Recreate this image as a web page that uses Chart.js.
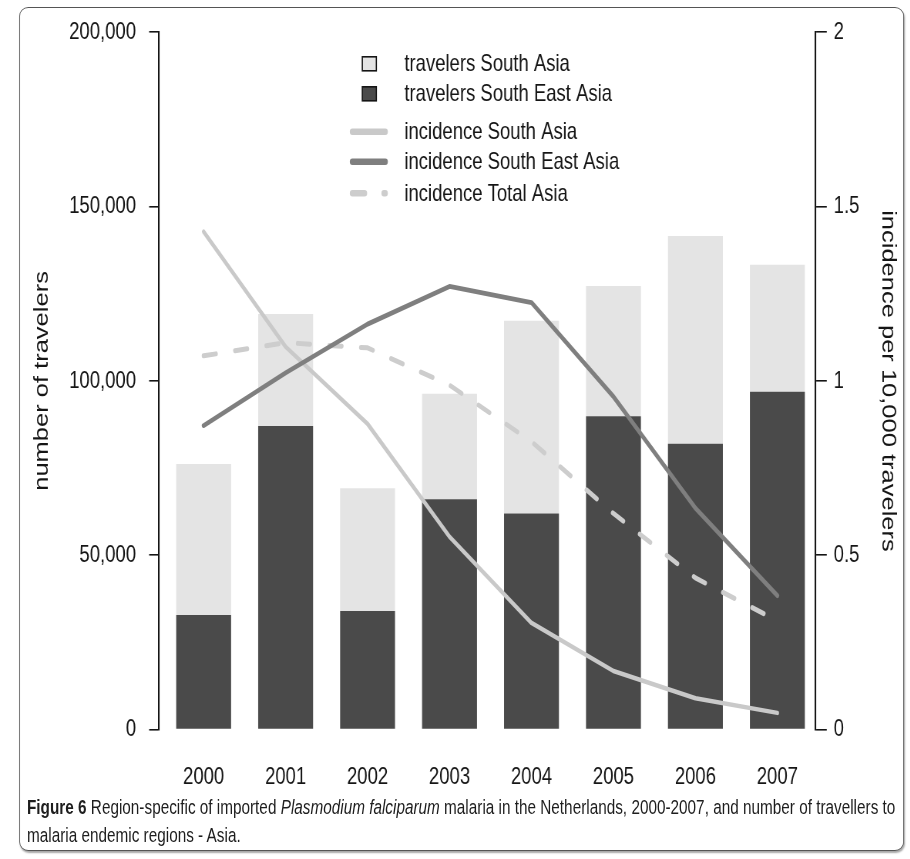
<!DOCTYPE html>
<html>
<head>
<meta charset="utf-8">
<script src="https://cdn.jsdelivr.net/npm/chart.js@4.4.1/dist/chart.umd.min.js"></script>
<style>
  html, body { margin: 0; padding: 0; background: #fff; overflow: hidden; }
  #page { position: absolute; left: 0; top: 0; height: 859px; transform-origin: 0 0; }
  #frame { position: absolute; box-sizing: border-box; border: 1.4px solid #555;
           box-shadow: 1px 2px 2px rgba(0,0,0,0.35); background: #fff; }
  #chart { position: absolute; left: 0; top: 0; }
  #caption { position: absolute; white-space: nowrap; color: #1e1e1e;
             font-family: 'Liberation Sans', Arial, Helvetica, sans-serif; }
</style>
</head>
<body>
<div id="page">
  <div id="frame"></div>
  <canvas id="chart"></canvas>
  <div id="caption"><b>Figure 6</b> Region-specific of imported <i>Plasmodium falciparum</i> malaria in the Netherlands, 2000-2007, and number of travellers to<br>malaria endemic regions - Asia.</div>
</div>
<script>
// Travellers (number of people) and imported P. falciparum incidence per 10,000 travellers
const years = ['2000', '2001', '2002', '2003', '2004', '2005', '2006', '2007'];
const travelersSouthEastAsia = [32900, 87100, 34000, 66100, 62000, 89900, 82000, 96900];
const travelersSouthAsia     = [43300, 32100, 35200, 30200, 55300, 37300, 59600, 36400];
const incidenceSouthAsia     = [1.428, 1.098, 0.877, 0.553, 0.306, 0.168, 0.090, 0.048];
const incidenceSouthEastAsia = [0.872, 1.023, 1.163, 1.271, 1.225, 0.955, 0.635, 0.384];
const incidenceTotalAsia     = [1.072, 1.110, 1.095, 0.988, 0.826, 0.620, 0.435, 0.312];
const travelerTicks  = [0, 50000, 100000, 150000, 200000];
const incidenceTicks = [0, 0.5, 1, 1.5, 2];

// The figure is set in a condensed face: draw at full width, then squeeze horizontally.
const SX = 0.77;
const W = 910 / SX, H = 859;
const px = x => x / SX;            // page x -> drawing x

const FONT = "'Liberation Sans', Arial, Helvetica, sans-serif";
const INK = '#151515';

const page = document.getElementById('page');
page.style.width = W + 'px';
page.style.transform = `scaleX(${SX})`;

const frame = document.getElementById('frame');
Object.assign(frame.style, {
  left: px(19) + 'px', top: '7px', width: px(904 - 19) + 'px', height: (851 - 7) + 'px',
  borderRadius: `${px(9)}px / 9px`
});

const caption = document.getElementById('caption');
Object.assign(caption.style, {
  left: px(27) + 'px', top: '793px', fontSize: '19.9px', lineHeight: '28px'
});

const canvas = document.getElementById('chart');
canvas.width = W; canvas.height = H;
canvas.style.width = W + 'px'; canvas.style.height = H + 'px';

const pts = arr => arr.map((v, i) => ({ x: i, y: v }));

// Legend drawn inside the plot, one item per row
const rowLegend = {
  id: 'rowLegend',
  afterDraw(chart, args, o) {
    const { ctx } = chart;
    o.order.forEach((di, k) => {
      const ds = chart.data.datasets[di];
      const y = o.rows[k];
      ctx.save();
      if (ds.type === 'bar') {
        ctx.fillStyle = ds.backgroundColor;
        ctx.strokeStyle = INK;
        ctx.lineWidth = 1.6;
        ctx.fillRect(px(o.boxX), y - o.box / 2, px(o.box), o.box);
        ctx.strokeRect(px(o.boxX), y - o.box / 2, px(o.box), o.box);
      } else {
        ctx.strokeStyle = ds.borderColor;
        ctx.lineWidth = 6.5;
        ctx.lineCap = 'round';
        ctx.setLineDash(ds.borderDash || []);
        ctx.beginPath();
        ctx.moveTo(px(o.lineX0), y);
        ctx.lineTo(px(o.lineX1), y);
        ctx.stroke();
      }
      ctx.setLineDash([]);
      ctx.fillStyle = INK;
      ctx.font = `24px ${FONT}`;
      ctx.textAlign = 'left';
      ctx.textBaseline = 'middle';
      ctx.fillText(ds.label, px(o.textX), y + 1);
      ctx.restore();
    });
  }
};

const tickFont = { family: FONT, size: 24 };
const titleFont = { family: FONT, size: 25.5 };

new Chart(canvas.getContext('2d'), {
  data: {
    datasets: [
      { type: 'bar', label: 'travelers South East Asia', data: pts(travelersSouthEastAsia),
        backgroundColor: '#4a4a4a', yAxisID: 'y', stack: 'travelers', order: 4,
        barPercentage: 0.67, categoryPercentage: 1 },
      { type: 'bar', label: 'travelers South Asia', data: pts(travelersSouthAsia),
        backgroundColor: '#e4e4e4', yAxisID: 'y', stack: 'travelers', order: 4,
        barPercentage: 0.67, categoryPercentage: 1 },
      { type: 'line', label: 'incidence South Asia', data: pts(incidenceSouthAsia),
        borderColor: '#c9c9c9', borderWidth: 4.5, yAxisID: 'y1', order: 2,
        pointRadius: 0, tension: 0, borderCapStyle: 'round', borderJoinStyle: 'round' },
      { type: 'line', label: 'incidence South East Asia', data: pts(incidenceSouthEastAsia),
        borderColor: '#7f7f7f', borderWidth: 4.8, yAxisID: 'y1', order: 1,
        pointRadius: 0, tension: 0, borderCapStyle: 'round', borderJoinStyle: 'round' },
      { type: 'line', label: 'incidence Total Asia', data: pts(incidenceTotalAsia),
        borderColor: '#cdcdcd', borderWidth: 5, borderDash: [16, 25], yAxisID: 'y1', order: 3,
        pointRadius: 0, tension: 0, borderCapStyle: 'round', borderJoinStyle: 'round' }
    ]
  },
  options: {
    responsive: false,
    animation: false,
    devicePixelRatio: 1,
    layout: { padding: { top: 32.3, left: 0, right: 0, bottom: 0 } },
    plugins: {
      legend: { display: false },
      tooltip: { enabled: false },
      rowLegend: {
        order: [1, 0, 2, 3, 4],
        rows: [63.8, 93.8, 131.7, 161.7, 193.3],
        boxX: 362, box: 14,
        lineX0: 352, lineX1: 385,
        textX: 404
      }
    },
    scales: {
      x: {
        type: 'linear', position: 'bottom', stacked: true, offset: false,
        min: -0.543, max: 7.46,
        grid: { display: false }, border: { display: false },
        afterBuildTicks: s => { s.ticks = years.map((_, i) => ({ value: i })); },
        ticks: { callback: v => years[v] ?? '', padding: 25, font: tickFont, color: INK,
                 maxRotation: 0, autoSkip: false },
        afterFit: s => { s.height = H - 729.6; }
      },
      y: {
        type: 'linear', position: 'left', stacked: true, min: 0, max: 200000,
        afterBuildTicks: s => { s.ticks = travelerTicks.map(v => ({ value: v })); },
        ticks: { callback: v => v.toLocaleString('en-US'), padding: 17, font: tickFont, color: INK },
        grid: { drawOnChartArea: false, tickLength: px(10), color: INK, lineWidth: 1.6 },
        border: { color: INK, width: px(1.6) },
        title: { display: true, text: 'number of travelers', font: titleFont, color: INK,
                 padding: { top: 39.2, bottom: 0 } },
        afterFit: s => { s.width = px(159); }
      },
      y1: {
        type: 'linear', position: 'right', min: 0, max: 2,
        afterBuildTicks: s => { s.ticks = incidenceTicks.map(v => ({ value: v })); },
        ticks: { callback: v => String(v), padding: 9, font: tickFont, color: INK },
        grid: { drawOnChartArea: false, tickLength: px(11.7), color: INK, lineWidth: 1.6 },
        border: { color: INK, width: px(1.6) },
        title: { display: true, text: 'incidence per 10,000 travelers', font: titleFont, color: INK,
                 padding: { top: 13.3, bottom: 0 } },
        afterFit: s => { s.width = W - px(815); }
      }
    }
  },
  plugins: [rowLegend]
});
</script>
</body>
</html>
